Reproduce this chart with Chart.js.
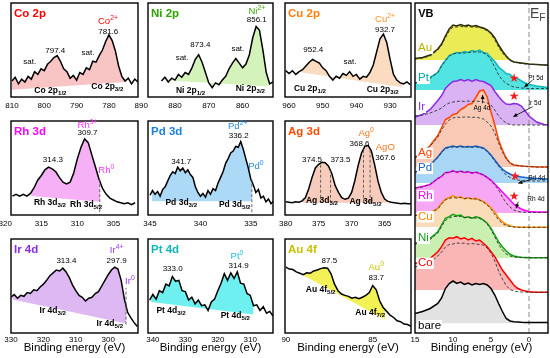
<!DOCTYPE html>
<html><head><meta charset="utf-8">
<script src="https://cdn.jsdelivr.net/npm/chart.js@4/dist/chart.umd.min.js"></script>
<style>
html,body{margin:0;padding:0;background:#fff}
body{width:550px;height:358px;position:relative;overflow:hidden}
canvas{position:absolute}
</style></head><body>
<script>
// ---------------- DATA ----------------
// Co 2p
const coE = [810,809,808,807,806,805,804,803,802,801,800,799,798,797,796,795,794,793,792,791,790,789,788,787,786,785,784,783,782,781,780,779,778,777,776,775,774,773,772,771];
const coI = [17,21,14,19,16,22,19,27,24,30,28,35,38,42,44,38,30,27,20,23,18,26,24,31,29,38,37,44,50,59,66,60,49,33,22,17,20,14,19,16];
const coBgE = [810,775], coBgI = [7.7,16];
const coTicks = [810,800,790,780];
// Ni 2p
const niE = [884,883,882,881,880,879,878,877,876,875,874,873,872,871,870,869,868,867,866,865,864,863,862,861,860,859,858,857,856,855,854,853,852,851];
const niI = [17,21,16,20,18,24,21,26,24,31,40,45,37,26,15,10,15,13,18,22,30,36,41,36,31,35,45,63,75,71,50,26,14,16];
const niBgE = [881.3,852.3], niBgI = [17.5,11.2];
const niTicks = [890,880,870,860];
// Cu 2p
const cuE = [961,960,959,958,957,956,955,954,953,952,951,950,949,948,947,946,945,944,943,942,941,940,939,938,937,936,935,934,933,932,931,930,929,928,927,926,925,924];
const cuI = [28,25,28,24,27,29,33,37,40,38,36,31,28,22,18,22,20,25,23,27,22,24,19,22,21,26,34,48,62,67,58,40,24,18,15,14,16,13];
const cuBgE = [956.2,926.5], cuBgI = [26,10.5];
const cuTicks = [960,950,940,930];
// Rh 3d
const rhE = [319,318.5,318,317.5,317,316.5,316,315.5,315,314.5,314,313.5,313,312.5,312,311.5,311,310.5,310,309.5,309,308.5,308,307.5,307,306.5,306,305.5,305,304.5,304,303.5,303,302.5,302];
const rhI = [20,22,20,22,20,23,29,37,42,48,51,49,46,40,35,33,35,45,60,72,81,77,64,51,38,28,22,18,16,14,13,12,13,11,13];
const rhBgE = [316.4,306.9], rhBgI = [20.2,14];
const rhMarks = [[306.9,3,38]];
const rhTicks = [320,315,310,305];
// Pd 3d
const pdE = [345,344.75,344.5,344.25,344,343.75,343.5,343.25,343,342.75,342.5,342.25,342,341.75,341.5,341.25,341,340.75,340.5,340.25,340,339.75,339.5,339.25,339,338.75,338.5,338.25,338,337.75,337.5,337.25,337,336.75,336.5,336.25,336,335.75,335.5,335.25,335,334.75,334.5,334.25,334,333.75,333.5,333.25,333,332.75];
const pdI = [21,26,22,25,20,27,30,36,42,46,44,51,47,50,45,48,43,40,30,24,20,23,19,26,22,28,26,34,40,46,55,60,66,68,73,72,78,70,60,50,38,32,24,27,18,20,14,17,12,15];
const pdBgE = [344.8,334.9], pdBgI = [14.7,14.7];
const pdMarks = [[334.9,3,38]];
const pdTicks = [345,340,335];
// Ag 3d
const agE = [380,379.5,379,378.5,378,377.5,377,376.5,376,375.5,375,374.5,374,373.5,373,372.5,372,371.5,371,370.5,370,369.5,369,368.5,368,367.5,367,366.5,366,365.5,365,364.5,364,363.5,363,362.5,362,361.5,361];
const agI = [14,13.5,13,14,13.5,15,18.5,28,40,50,54,56,55.5,52,44,31.5,24,18.5,16.7,18,24,37,53,66,73,74,68,53,36,24,17,14.5,13.5,13,12.5,12,12.5,12,12];
const agBgE = [377.5,364.6], agBgI = [13,13];
const agMarks = [[374.7,13,54],[373.2,13,47],[368.2,13,71],[367.2,13,69]];
const agTicks = [380,375,370,365];
// Ir 4d
const irE = [330,329,328,327,326,325,324,323,322,321,320,319,318,317,316,315,314,313,312,311,310,309,308,307,306,305,304,303,302,301,300,299,298,297,296,295,294,293,292,291];
const irI = [38,41,37,40,39,43,42,46,45,49,52,56,61,64,67,66,69,65,59,51,45,40,38,34,37,38,42,44,50,56,62,67,70,68,56,36,22,16,11,7];
const irBgE = [329.5,294.5], irBgI = [35.7,10];
const irMarks = [[294.5,9,48]];
const irTicks = [330,320,310,300];
// Pt 4d
const ptE = [341,340,339,338,337,336,335,334,333,332,331,330,329,328,327,326,325,324,323,322,321,320,319,318,317,316,315,314,313,312,311,310,309,308,307,306,305,304,303];
const ptI = [35,41,36,45,43,52,50,60,55,56,45,44,35,38,31,35,29,30,24,33,36,45,53,63,56,64,58,65,53,52,42,40,29,30,24,28,21,23,18];
const ptBgE = [340.5,309], ptBgI = [32.9,19.6];
const ptTicks = [340,330,320,310];
// Au 4f
const auE = [90,89.8,89.6,89.4,89.2,89,88.8,88.6,88.4,88.2,88,87.8,87.6,87.4,87.2,87,86.8,86.6,86.4,86.2,86,85.8,85.6,85.4,85.2,85,84.8,84.6,84.4,84.2,84,83.8,83.6,83.4,83.2,83,82.8];
const auI = [70,68,67.5,65,63.5,62,64,63.5,66,67,68.5,69.5,69,63,52,45,41.5,40,39,37,38,36.5,38,40,43,50.5,46,34,27,23,19,16.5,13,12,9.5,9,7];
const auBgE = [89,84.3], auBgI = [61.4,14.3];
const auTicks = [90,85];
// Valence band
const vbE = [15,14,13,12,11.5,11,10.5,10,9.5,9,8.5,8,7.5,7,6.5,6,5.5,5,4.5,4,3.5,3,2.5,2,1.5,1,0.5,0,-1,-2,-2.5];
const vbTicks = [15,10,5,0];
const bareV = [19.5,21.5,24.5,29.5,35,44.5,49.5,52,49.5,51,48.5,50,48,49.5,48.5,49.5,48,44.5,38,29.5,21.5,14.5,12,11.3,11,10.7,10.6,10.6,10.5,10.5,10.5];
const coV = [69.7,70.7,74.7,81.3,86.3,93,95.3,94.7,96.3,94,95.3,93,94.7,92,93,89.7,86.3,81.3,76.3,69.7,63,58,53,48,44.7,43,42,41.3,40.7,40.7,40.7];
const coRef = [66.3,67,71,77,81,86,88.5,89,90,89.5,90,89,89.5,89,88.5,88,85,80,72,62,54,47.5,43.5,42,41.3,41,41,40.7,40.7,40.7,40.7];
const niV = [89.7,91.3,94.7,101.3,108,114.7,116.3,118.7,117.3,118,115.3,116.3,114.7,116.3,115.3,113,109.7,104.7,98,91.3,86.3,82,78.7,77,76.2,75.7,75.5,75.3,75.3,75.3,75.3];
const niRef = [89,90.5,93.5,100,106.5,112.5,115,116.5,116.5,116.5,115.5,115.5,115,115,114.5,112.5,109,103.5,96,88.5,83,79,77,76,75.6,75.4,75.3,75.3,75.3,75.3,75.3];
const cuV = [118,118.7,120.7,124.7,129.7,134,135.3,137.3,135.3,136.3,134,135.3,134,134.7,133,131.3,128.7,125.3,120.7,115.3,111.3,108.7,107.3,106.3,106,105.8,105.7,105.7,105.7,105.7,105.7];
const cuRef = [117.5,118,120,124,129,133,134.5,135.5,135,135.5,134.5,135,134,134,133,131,128,124,118.5,113,109.5,107.5,106.5,106,105.8,105.7,105.7,105.7,105.7,105.7,105.7];
const rhV = [145,146.5,148.5,154.5,156.5,160.5,160.5,162.5,160.5,162,160.5,161.5,159.5,161,159.5,158,155.5,153,149,145,141,137,133,129,126,124,122.5,121.5,121,121,121];
const rhRef = [145,146,149,154,157,160,161,161.5,161,161.5,161,161,160.5,160.5,160,158,155.5,152,148,143,136,130,126,123,121.5,121,120.7,120.5,120.5,120.5,120.5];
const pdV = [161,163,168,176,181,185,186,187,186,187,186,186.5,186,187,186,185,182,178,173,168,164,161,159,157.5,156.5,156,155.5,155,154.5,154,154];
const pdRef = [161,163,168,175.5,180.5,184.5,185.5,186,186,186,186,186,186,186,185.5,184.5,181.5,177,172,167,162,158,155.5,154,153,152.5,152.3,152,152,152,152];
const agV = [175,180.5,187.5,197.5,205.5,213.5,215.5,218.5,219.5,223.5,225.5,228.5,229.5,235.5,242,243,236,221,208,193,183,175,170,168,167.5,167,166.7,166.5,166,166,166];
const agRef = [176,180,187,196,203,209,213,215,216,215.5,216,216,215.5,216,215,214,211,207,200,190,181,174,170,168,167.5,167,166.7,166.5,166,166,166];
const irV = [216,218.5,223.5,232.5,237.5,244.5,248.5,251.5,252,253.5,252,253.5,251.5,253.5,252,251.5,249.5,247.5,241.5,236.5,232,229,228.5,229.5,229,227,222,217,211,208.5,208];
const irRef = [217,218,220,223,225,228,230,231,231.5,232,231.5,232,231.5,232,231.5,231,230,228,223,217,213,210,208.5,208,208,208,208,208,208,208,208];
const ptV = [250,251.5,255.5,260.5,267.5,272.5,277.5,279,280.5,280,281.5,280.5,282.5,281.5,283,280.5,279.5,275.5,271.5,266,263,259.5,258.5,255.5,254.5,252,250,248.5,247,246,245.5];
const ptRef = [250,252,255,260.5,267,272.5,277,279,280,280,280,280.5,281,281,281,280,278,273,266,258,253,249.5,247.5,246,245.5,245,244.7,244.5,244.5,244.5,244.5];
const auV = [274.5,275.5,278,284,289,297,304,308,307,308.5,307,308,306.5,307.5,306,305,303,300,295,288,282,277,273,271,270.5,270,269.5,269,268.5,268,268];
const auRef = [274,275,277,283,288,295,302,306,306,306.5,306,306.5,306,306,305.5,304.5,302,299,293,286,280,276,272.5,271,270,269.5,269,268.5,268.5,268,268];
const vbNames = ['bare','Co','Ni','Cu','Rh','Pd','Ag','Ir','Pt','Au'];
const vbBase  = [9.5,43,74.7,106,120,150,166,208,243,273];

// ---------------- STYLE / DRAWING ----------------
const FONT = "'Liberation Sans', Arial, Helvetica, sans-serif";
const STYLES = {
  num:  {size: 8},
  lab:  {size: 8.5, weight: 'bold'},
  sp:   {size: 9.5},
  vbl:  {size: 11.5, align: 'left', bg: '#fff'},
  tiny: {size: 6.5, align: 'left'},
  tinyc:{size: 6.5},
  star: {size: 12, family: "'DejaVu Sans', sans-serif", color: '#ff1a1a'},
  vb:   {size: 11, weight: 'bold', align: 'left'},
  ef:   {size: 14, align: 'left', color: '#444'}
};

function parseRich(s) {
  const parts = []; const re = /([_^])\{([^}]*)\}/g; let last = 0, m;
  while ((m = re.exec(s))) {
    if (m.index > last) parts.push([s.slice(last, m.index), '']);
    parts.push([m[2], m[1] === '_' ? 'sub' : 'sup']);
    last = re.lastIndex;
  }
  if (last < s.length) parts.push([s.slice(last), '']);
  return parts;
}
function drawRich(ctx, s, x, y, st) {
  const parts = parseRich(s);
  const size = st.size, small = size * 0.72, w = st.weight || 'normal', fam = st.family || FONT;
  const fonts = parts.map(p => `${w} ${p[1] ? small : size}px ${fam}`);
  const widths = parts.map((p, i) => { ctx.font = fonts[i]; return ctx.measureText(p[0]).width; });
  const total = widths.reduce((a, b) => a + b, 0);
  let cx = st.align === 'left' ? x : st.align === 'right' ? x - total : x - total / 2;
  if (st.bg) { ctx.fillStyle = st.bg; ctx.fillRect(cx - 1, y - size * 0.5, total + 2, size * 1.0); }
  ctx.fillStyle = st.color || '#000'; ctx.textBaseline = 'middle'; ctx.textAlign = 'left';
  parts.forEach((p, i) => {
    ctx.font = fonts[i];
    const dy = p[1] === 'sub' ? size * 0.32 : p[1] === 'sup' ? -size * 0.36 : 0;
    ctx.fillText(p[0], cx, y + dy); cx += widths[i];
  });
}
function drawArrow(ctx, x1, y1, x2, y2) {
  ctx.strokeStyle = '#000'; ctx.fillStyle = '#000'; ctx.lineWidth = 0.8;
  ctx.beginPath(); ctx.moveTo(x1, y1); ctx.lineTo(x2, y2); ctx.stroke();
  const a = Math.atan2(y2 - y1, x2 - x1), L = 4.5;
  ctx.beginPath(); ctx.moveTo(x2, y2);
  ctx.lineTo(x2 - L * Math.cos(a - 0.45), y2 - L * Math.sin(a - 0.45));
  ctx.lineTo(x2 - L * Math.cos(a + 0.45), y2 - L * Math.sin(a + 0.45));
  ctx.closePath(); ctx.fill();
}
const framePlugin = {
  id: 'frame',
  afterDatasetsDraw(chart) {
    const {ctx, chartArea: a} = chart;
    ctx.save(); ctx.strokeStyle = '#000'; ctx.lineWidth = 1.4;
    ctx.strokeRect(a.left, a.top, a.right - a.left, a.bottom - a.top);
    ctx.restore();
  }
};
function notesPlugin(cfg) {
  return {
    id: 'notes',
    afterDatasetsDraw(chart) {
      const {ctx, chartArea: a, scales: {x, y}} = chart;
      ctx.save();
      (cfg.arrows || []).forEach(([x1, y1, x2, y2]) =>
        drawArrow(ctx, x.getPixelForValue(x1), y.getPixelForValue(y1), x.getPixelForValue(x2), y.getPixelForValue(y2)));
      (cfg.items || []).forEach(([vx, vy, text, sn, col]) => {
        const st = Object.assign({}, STYLES[sn]); if (col) st.color = col;
        drawRich(ctx, text, x.getPixelForValue(vx), y.getPixelForValue(vy), st);
      });
      if (cfg.title) drawRich(ctx, cfg.title, a.left + 3, a.top + 11, {size: 11.5, weight: 'bold', color: cfg.titleColor, align: 'left'});
      ctx.restore();
    }
  };
}
function makeChart(rect, cfg) {
  const PL = 14, PR = 8, PT = 3, padB = cfg.padB;
  const cv = document.createElement('canvas');
  const W = rect.r - rect.l + PL + PR, H = rect.b - rect.t + PT + padB;
  cv.width = W; cv.height = H;
  cv.style.left = (rect.l - PL) + 'px'; cv.style.top = (rect.t - PT) + 'px';
  cv.style.width = W + 'px'; cv.style.height = H + 'px';
  document.body.appendChild(cv);
  new Chart(cv, {
    type: 'line',
    data: {datasets: cfg.datasets},
    options: {
      responsive: false, animation: false, devicePixelRatio: 1,
      layout: {padding: {left: PL, right: PR, top: PT, bottom: 0}},
      plugins: {legend: {display: false}, tooltip: {enabled: false}, filler: {drawTime: 'beforeDatasetsDraw', propagate: false}},
      elements: {point: {radius: 0}, line: {tension: 0}},
      scales: {
        x: {
          type: 'linear', reverse: true, min: cfg.min, max: cfg.max,
          grid: {display: false, drawTicks: false}, border: {display: false},
          ticks: {color: '#000', font: {size: 8, family: FONT}, padding: cfg.tickPad, maxRotation: 0, autoSkip: false, callback: v => String(v)},
          afterBuildTicks: s => { s.ticks = cfg.ticks.map(v => ({value: v})); },
          afterFit: s => { s.height = padB; s.paddingLeft = 0; s.paddingRight = 0; },
          title: cfg.xTitle ? {display: true, text: 'Binding energy (eV)', color: '#000', font: {size: 11.5, family: FONT}, padding: {top: 0, bottom: 0}} : {display: false}
        },
        y: {display: false, min: cfg.ymin || 0, max: cfg.ymax || 100}
      }
    },
    plugins: [framePlugin, notesPlugin(cfg)]
  });
}
const pts = (E, I) => E.map((e, i) => ({x: e, y: I[i]}));
function xpsSets(E, I, bgE, bgI, fillColor, marks) {
  const ds = [
    {data: pts(E, I), borderColor: '#000', borderWidth: 1.5, borderJoinStyle: 'miter', fill: {target: 1, above: fillColor, below: fillColor}, order: 0},
    {data: pts(bgE, bgI), borderWidth: 0, borderColor: 'rgba(0,0,0,0)', fill: false, order: 1}
  ];
  (marks || []).forEach(([e, y0, y1]) => ds.push({data: [{x: e, y: y0}, {x: e, y: y1}], borderColor: '#555', borderWidth: 0.9, borderDash: [3, 2], fill: false, order: -1}));
  return ds;
}

// ---------------- LAYOUT ----------------
const C1 = {l: 11, r: 138}, C2 = {l: 148, r: 273}, C3 = {l: 285, r: 411};
const R1 = {t: 3, b: 97}, R2 = {t: 121, b: 215}, R3 = {t: 239, b: 333};
const rc = (c, r) => ({l: c.l, r: c.r, t: r.t, b: r.b});
const top2 = {padB: 16, tickPad: 4}, bot = {padB: 22, tickPad: 2, xTitle: true};

makeChart(rc(C1, R1), Object.assign({min: 771, max: 810.3, ticks: coTicks, title: 'Co 2p', titleColor: '#ff0000',
  datasets: xpsSets(coE, coI, coBgE, coBgI, '#f8c4c4'),
  items: [[780.3, 80, 'Co^{2+}', 'sp', '#ff0000'], [780.2, 69.5, '781.6', 'num'], [796.6, 49, '797.4', 'num'],
          [804.5, 37, 'sat.', 'num'], [786.5, 47, 'sat.', 'num'], [798.1, 7, 'Co 2p_{1/2}', 'lab'], [780.5, 10.6, 'Co 2p_{3/2}', 'lab']]}, top2));

makeChart(rc(C2, R1), Object.assign({min: 851, max: 888, ticks: niTicks, title: 'Ni 2p', titleColor: '#2ca500',
  datasets: xpsSets(niE, niI, niBgE, niBgI, '#d4f3ba'),
  items: [[855.8, 90.7, 'Ni^{2+}', 'sp', '#3aa80a'], [855.8, 82.6, '856.1', 'num'], [872.5, 55.3, '873.4', 'num'],
          [877.9, 42.2, 'sat.', 'num'], [861.4, 51.8, 'sat.', 'num'], [875.4, 6.4, 'Ni 2p_{1/2}', 'lab'], [857.7, 8.5, 'Ni 2p_{3/2}', 'lab']]}, top2));

makeChart(rc(C3, R1), Object.assign({min: 923.8, max: 961.2, ticks: cuTicks, title: 'Cu 2p', titleColor: '#ff7f0e',
  datasets: xpsSets(cuE, cuI, cuBgE, cuBgI, '#fbdcc0'),
  items: [[931.5, 82.6, 'Cu^{2+}', 'sp', '#ff8c1a'], [931.5, 72, '932.7', 'num'], [952.8, 50, '952.4', 'num'],
          [941.9, 37.6, 'sat.', 'num'], [953.8, 9.2, 'Cu 2p_{1/2}', 'lab'], [932.2, 8.2, 'Cu 2p_{3/2}', 'lab']]}, top2));

makeChart(rc(C1, R2), Object.assign({min: 301.6, max: 319.2, ticks: rhTicks, title: 'Rh 3d', titleColor: '#ff00ff',
  datasets: xpsSets(rhE, rhI, rhBgE, rhBgI, '#f6b0f6', rhMarks),
  items: [[308.6, 95, 'Rh^{3+}', 'sp', '#ff33ff'], [308.6, 87, '309.7', 'num'], [313.4, 58.8, '314.3', 'num'],
          [306.0, 47, 'Rh^{0}', 'sp', '#ff33ff'], [313.8, 12.9, 'Rh 3d_{3/2}', 'lab'], [308.8, 11, 'Rh 3d_{5/2}', 'lab']]}, top2));

makeChart(rc(C2, R2), Object.assign({min: 332.8, max: 345.2, ticks: pdTicks, title: 'Pd 3d', titleColor: '#1a80e0',
  datasets: xpsSets(pdE, pdI, pdBgE, pdBgI, '#acd9f6', pdMarks),
  items: [[336.3, 94.5, 'Pd^{2+}', 'sp', '#1f8ae0'], [336.2, 84.6, '336.2', 'num'], [341.9, 56.6, '341.7', 'num'],
          [334.5, 52, 'Pd^{0}', 'sp', '#1f8ae0'], [341.9, 13.6, 'Pd 3d_{3/2}', 'lab'], [336.6, 11, 'Pd 3d_{5/2}', 'lab']]}, top2));

makeChart(rc(C3, R2), Object.assign({min: 361, max: 380.1, ticks: agTicks, title: 'Ag 3d', titleColor: '#ff4d00',
  datasets: xpsSets(agE, agI, agBgE, agBgI, '#f8ccbd', agMarks),
  items: [[367.8, 87, 'Ag^{0}', 'sp', '#ff7518'], [368.8, 76, '368.6', 'num'], [364.9, 72, 'AgO', 'sp', '#ff7518'],
          [364.9, 61, '367.6', 'num'], [376, 59, '374.5', 'num'], [371.7, 59, '373.5', 'num'],
          [374.5, 15, 'Ag 3d_{3/2}', 'lab'], [367.9, 14, 'Ag 3d_{5/2}', 'lab']]}, top2));

makeChart(rc(C1, R3), Object.assign({min: 290.8, max: 330, ticks: irTicks, title: 'Ir 4d', titleColor: '#8a2be2',
  datasets: xpsSets(irE, irI, irBgE, irBgI, '#ddb8f3', irMarks),
  items: [[297.4, 87.5, 'Ir^{4+}', 'sp', '#9933ff'], [297.4, 76.8, '297.9', 'num'], [312.9, 76.8, '313.4', 'num'],
          [293.3, 55, 'Ir^{0}', 'sp', '#9933ff'], [317.1, 24, 'Ir 4d_{3/2}', 'lab'], [299.5, 10, 'Ir 4d_{5/2}', 'lab']]}, bot));

makeChart(rc(C2, R3), Object.assign({min: 303, max: 341.5, ticks: ptTicks, title: 'Pt 4d', titleColor: '#10b5b5',
  datasets: xpsSets(ptE, ptI, ptBgE, ptBgI, '#6ff0f0'),
  items: [[314.1, 81.4, 'Pt^{0}', 'sp', '#19c3d3'], [313.6, 71.4, '314.9', 'num'], [333.9, 68, '333.0', 'num'],
          [334.4, 24, 'Pt 4d_{3/2}', 'lab'], [314.6, 18, 'Pt 4d_{5/2}', 'lab']]}, bot));

makeChart(rc(C3, R3), Object.assign({min: 82.8, max: 90.05, ticks: auTicks, title: 'Au 4f', titleColor: '#c8c000',
  datasets: xpsSets(auE, auI, auBgE, auBgI, '#f2f256'),
  items: [[84.8, 69.6, 'Au^{0}', 'sp', '#c9c200'], [84.8, 59, '83.7', 'num'], [87.5, 76.8, '87.5', 'num'],
          [88.0, 46.4, 'Au 4f_{5/2}', 'lab'], [85.15, 21.4, 'Au 4f_{7/2}', 'lab']]}, bot));

// ---------------- VB panel ----------------
const vbSeries = [bareV, coV, niV, cuV, rhV, pdV, agV, irV, ptV, auV];
const vbRefs   = [null, coRef, niRef, cuRef, rhRef, pdRef, agRef, irRef, ptRef, auRef];
const vbLine = ['#000000', '#ff0000', '#13a013', '#ff8c00', '#ff00ff', '#1565d0', '#ff4500', '#8a2be2', '#12b8b8', '#2b2b00'];
const vbFill = ['#e2e2e2', '#f9b6b4', '#c9f0b0', '#fbdcb8', '#f7a8f5', '#a9d6f5', '#f9c9b6', '#dab3f5', '#52e3e3', '#ebeb55'];
const vbLab  = ['#000000', '#ff0000', '#13a013', '#ff8000', '#ff00ff', '#1565d0', '#ff4500', '#8a2be2', '#00a8a8', '#b9b400'];
const vbLabY = [7.3, 69.7, 94.7, 116.3, 137.3, 164.7, 179.7, 225.7, 254.7, 284.7];
const vbDs = [];
vbSeries.forEach((s, i) => {
  vbDs.push({data: pts(vbE, s), borderColor: vbLine[i], borderWidth: 1.5, order: 0,
             fill: {target: {value: vbBase[i]}, above: vbFill[i], below: 'rgba(0,0,0,0)'}});
  if (vbRefs[i]) vbDs.push({data: pts(vbE, vbRefs[i]), borderColor: '#333', borderWidth: 0.9, borderDash: [3, 2], fill: false, order: -1});
});
vbDs.push({data: [{x: 0, y: 0}, {x: 0, y: 330}], borderColor: '#8a8a8a', borderWidth: 1, borderDash: [5, 3], fill: false, order: 1});
const vbItems = vbNames.map((n, i) => [14.6, vbLabY[i], n, 'vbl', vbLab[i]]);
vbItems.push([14.57, 319, 'VB', 'vb'], [-0.13, 319, 'E_{F}', 'ef'],
  [1.97, 254, '\u2605', 'star'], [1.97, 236.3, '\u2605', 'star'], [1.84, 156.3, '\u2605', 'star'], [1.97, 136.3, '\u2605', 'star'],
  [0.1, 255, 'Pt 5d', 'tiny'], [0.1, 229.7, 'Ir 5d', 'tiny'], [6.2, 224.7, 'Ag 4d', 'tinyc'], [0.1, 154.7, 'Pd 4d', 'tiny'], [0.22, 134, 'Rh 4d', 'tiny']);
const vbArrows = [[-0.47, 253, 0.62, 245.7], [-0.47, 226.3, 2.07, 216.3], [6.1, 229.7, 6.1, 238], [-0.47, 154, 1.41, 149.7], [1.41, 131.3, 1.71, 124.7]];

makeChart({l: 415, r: 548, t: 3, b: 333}, {min: -2.5, max: 15, ymin: 0, ymax: 330, ticks: vbTicks, padB: 22, tickPad: 2, xTitle: true,
  datasets: vbDs, items: vbItems, arrows: vbArrows});
</script>
</body></html>
